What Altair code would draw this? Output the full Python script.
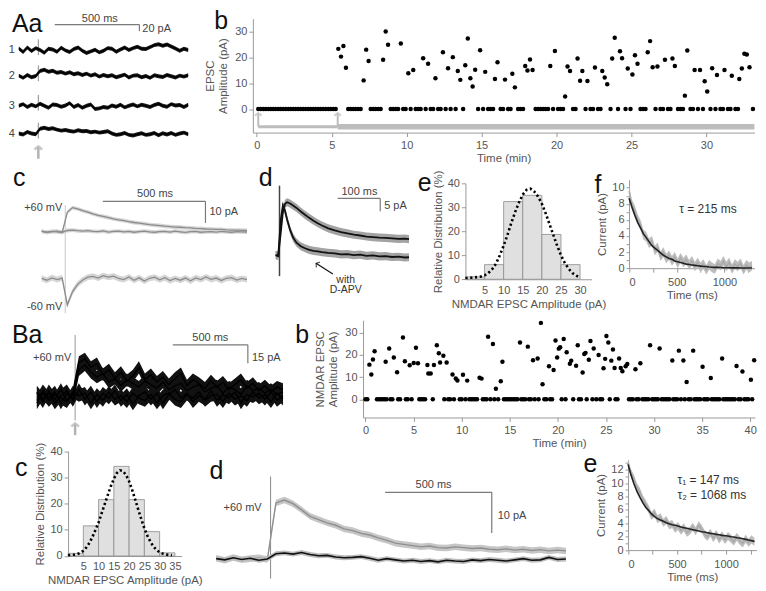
import altair as alt
import pandas as pd

FONT = "Liberation Sans"
WT, HT = 750, 583          # whole drawing area
KX, KY = 0.99, 0.985       # fit the 766x591 figure into the page

# ====================== DATA ======================
# --- A a: four single sweeps (ms from stimulus, pA) ---
aa_t = [-115, -90, -65, -40, -15, 10, 35, 60, 85, 110, 135, 160, 185, 210, 235, 260, 285, 310, 335, 360,
        385, 410, 435, 460, 485, 510, 535, 560, 585, 610, 635, 660, 685, 710, 735, 760, 785, 810, 835, 860, 885]
aa_1 = [5, -6, 8, -3, 6, 0, -8, 4, 2, -5, 7, -1, -6, 3, 8, -2, -9, -4, 1, -7, -2, 6, 4, -5, 2, 8, 0, 6, 10, 4,
        3, 9, 15, 18, 13, 17, 11, 5, -2, 4, 0]
aa_2 = [2, -5, 4, -3, 1, 16, 20, 14, 17, 11, 13, 8, 12, 6, 9, 4, 8, 2, 6, -1, 4, 0, 3, -3, 1, 5, -4, 2, 3, -3,
        1, -5, 3, 0, -2, 4, 0, -4, 2, -1, 3]
aa_3 = [0, 5, -4, 3, -2, 6, 0, -6, 4, 2, -3, 1, 8, -4, 2, -6, 0, 4, -10, -8, -4, -6, 1, -3, 3, -5, 0, 4, -2, 3,
        0, -4, 2, 6, 0, -3, 5, 1, 2, -4, 3]
aa_4 = [0, -3, 5, 0, -2, 15, 18, 14, 16, 12, 9, 11, 8, 6, 10, 7, 8, 4, 6, 3, 5, 7, 0, -4, -2, 2, -4, -6, -2, 1,
        -4, -2, 2, -5, 1, -3, 2, -4, 0, 3, -2]

# --- A b: EPSC amplitude vs time (successes) ---
b1_t = [5.44, 5.62, 5.78, 5.95, 7.13, 7.30, 7.46, 8.43, 8.60, 8.76, 9.61, 10.11, 10.44, 11.10, 11.43, 11.92,
        12.42, 12.76, 13.08, 13.41, 13.58, 13.91, 14.08, 14.25, 14.40, 14.57, 14.90, 15.24, 15.89, 16.06, 16.56,
        17.05, 17.22, 17.91, 18.06, 18.23, 18.40, 19.58, 19.89, 20.57, 20.73, 20.90, 21.40, 21.57, 21.72, 22.06,
        22.56, 23.05, 23.21, 23.38, 23.71, 23.88, 24.23, 24.37, 24.75, 25.06, 25.23, 25.40, 26.08, 26.24, 26.41,
        26.73, 27.23, 27.73, 27.89, 28.56, 28.72, 29.21, 29.57, 29.88, 30.05, 30.38, 30.70, 31.20, 31.69, 32.19,
        32.36, 32.53, 32.69, 32.87]
b1_a = [23.3, 20.3, 24.4, 16, 11.1, 23, 18.6, 19.1, 30, 24.9, 25.4, 13.9, 15.1, 19.7, 17.5, 11.9, 22, 15.8, 20.1,
        14.7, 11.3, 17, 27.3, 11.9, 8.7, 15.2, 22.8, 14.4, 11.6, 18.1, 11.4, 13.7, 8.4, 16.7, 14.9, 19.2, 15.1,
        16.7, 22.5, 4.9, 16.5, 14.7, 19.6, 11, 14.7, 10.9, 16.1, 14.7, 12.2, 9.6, 19.6, 27.6, 22.4, 19.7, 15.7,
        13.4, 20.8, 17.5, 22, 26.3, 16.2, 16.5, 19.1, 19.6, 16.7, 5.2, 22.7, 15.1, 15.1, 10.8, 6.8, 15.8, 13.2,
        15.1, 12.9, 11.6, 15.7, 21.4, 21.1, 16.2]
b1_first_trial = 0.1      # min
b1_interval = 1 / 6       # min (one stimulus every 10 s)
b1_n_trials = 199

# --- A c: averaged traces at +60 / -60 mV (ms, pA) ---
c_succ = [0.3, -0.2, 0.2, 0, -0.3, 9, 11.2, 10.6, 9.8, 9.1, 8.3, 7.6, 7.1, 6.6, 6, 5.5, 5.2, 4.7, 4.3, 4, 3.7,
          3.3, 3.1, 2.9, 2.6, 2.4, 2.2, 2.1, 1.9, 1.8, 1.6, 1.5, 1.3, 1.2, 1.1, 1.1, 0.9, 0.8, 0.8, 0.7, 0.6]
c_fail = [0.2, -0.3, 0.1, 0.3, -0.2, 0.6, 0.8, 0.5, 0.3, 0.5, 0.2, 0.1, 0.4, -0.1, 0.2, 0.3, 0, 0.2, -0.2, 0.1,
          0.3, 0, -0.2, 0.1, 0.2, -0.1, 0.3, 0, -0.3, 0.1, 0.2, -0.2, 0, 0.1, -0.1, 0.2, 0, -0.2, 0.1, 0, -0.1]
c_neg = [0.3, -0.6, 0.5, -0.3, 0.4, -12, -6, -2.5, -0.5, 0.8, 1.2, 0.4, 1.5, 0.8, 1.3, 0.2, -0.3, 0.9, -0.6, 0.5,
         -1, 0.3, 0.8, -0.4, 0.6, -0.8, 0.2, -0.6, 0.4, -0.9, 0.5, -0.3, 0.9, -0.2, 0.4, -0.7, 0.3, 0.6, -0.5,
         0.2, -0.3]

# --- A d: control vs D-APV (ms, pA) ---
d_t = [-9, -3, 3, 8, 13, 18, 25, 32, 40, 50, 60, 70, 80, 90, 100, 115, 130, 145, 160, 175, 190, 205, 220, 235,
       250, 265, 280, 295, 305]
d_ctrl = [0.2, -0.3, 9, 17, 20.2, 20.8, 20.3, 19.5, 18.6, 17.2, 15.9, 14.7, 13.6, 12.6, 11.7, 10.6, 9.8, 9.1,
          8.6, 8.1, 7.8, 7.4, 7.2, 7.0, 6.9, 6.7, 6.5, 6.6, 6.4]
d_apv = [0.1, -0.2, 14, 19.6, 17.5, 14, 10, 7, 5, 3.6, 2.8, 2.2, 1.8, 1.6, 1.3, 1, 0.8, 0.4, 0.5, 0.1, 0.3, -0.2,
         0, -0.4, -0.3, -0.6, -0.5, -0.8, -0.7]

# --- A e / B c: amplitude histograms (%), dotted fits ---
ae_lo = [0, 5, 10, 15, 20, 25]
ae_hi = [5, 10, 15, 20, 25, 30]
ae_pct = [1.0, 6.1, 32.4, 35.0, 18.7, 6.1]
ae_fit_x = [0, 1, 2, 3, 4, 5, 6, 7, 8, 9, 10, 11, 12, 13, 14, 15, 16, 17, 18, 19, 20, 21, 22, 23, 24, 25, 26,
            27, 28, 29, 30]
ae_fit_y = [0.5, 0.6, 0.7, 0.9, 1.1, 1.6, 2.6, 4.2, 6.5, 10, 14, 18.5, 23.5, 28, 32, 35.3, 37.3, 37.8, 36.6, 34.5,
            31.5, 27.5, 23, 18.5, 14, 10, 6.8, 4.4, 2.6, 1.5, 0.8]
bc_lo = [0, 5, 10, 15, 20, 25, 30]
bc_hi = [5, 10, 15, 20, 25, 30, 35]
bc_pct = [1.0, 11.5, 21.5, 34.2, 21.5, 9.3, 1.2]
bc_fit_x = [0, 1, 2, 3, 4, 5, 6, 7, 8, 9, 10, 11, 12, 13, 14, 15, 16, 17, 18, 19, 20, 21, 22, 23, 24, 25, 26,
            27, 28, 29, 30, 31, 32, 33, 34]
bc_fit_y = [0.3, 0.4, 0.5, 0.7, 1.2, 2, 3.3, 5, 7.3, 10, 12.8, 16.3, 19.8, 23.2, 26.6, 29.5, 31.7, 32.7, 32.4,
            30.9, 28.5, 25.2, 21.5, 17.7, 14, 10.6, 7.7, 5.4, 3.6, 2.3, 1.4, 0.9, 0.6, 0.4, 0.3]

# --- A f / B e: decays (ms, pA) ---
fe_t = [0, 30, 60, 90, 120, 150, 180, 210, 240, 270, 300, 330, 360, 390, 420, 450, 480, 510, 540, 570, 600, 630,
        660, 690, 720, 750, 780, 810, 840, 870, 900, 930, 960, 990, 1020, 1050, 1080, 1110, 1140, 1170, 1200,
        1230, 1260, 1290]
f_gray = [9.6, 7.9, 7.2, 6.1, 5.4, 4.2, 3.9, 3.1, 3.4, 2.2, 2.6, 1.5, 2.0, 1.2, 1.6, 0.9, 1.4, 0.6, 1.3, 0.7,
          1.1, 0.4, 0.9, 0.2, 0.7, 0.1, 0.5, -0.2, 0.4, 0.1, -0.1, 0.6, 0.3, 0.9, 0.2, 0.7, -0.1, 0.5, 0.2, 0.6,
          -0.2, 0.4, 0.1, 0.3]
f_fit = [8.7, 7.6, 6.6, 5.7, 5.0, 4.3, 3.8, 3.3, 2.8, 2.5, 2.2, 1.9, 1.6, 1.4, 1.2, 1.1, 0.9, 0.8, 0.7, 0.6, 0.5,
         0.45, 0.4, 0.35, 0.3, 0.25, 0.2, 0.2, 0.15, 0.12, 0.1, 0.1, 0.08, 0.06, 0.05, 0.05, 0.04, 0.03, 0.03,
         0.02, 0.02, 0.02, 0.01, 0.01]
be_gray = [13, 11.5, 10.6, 9.4, 8.7, 7.6, 6.9, 6.1, 5.1, 5.6, 4.6, 4.9, 4.1, 4.5, 3.7, 3.9, 3.2, 3.6, 2.9, 3.4,
           2.6, 2.9, 3.5, 2.8, 3.7, 3.2, 2.4, 2.0, 2.6, 1.8, 2.4, 1.6, 2.2, 1.5, 2.1, 1.7, 1.3, 2.0, 1.4, 1.0,
           1.7, 1.1, 1.6, 1.2]
be_fit = [12.8, 11.2, 9.9, 8.8, 7.9, 7.1, 6.4, 5.9, 5.4, 5.0, 4.7, 4.5, 4.3, 4.1, 3.95, 3.8, 3.7, 3.6, 3.45,
          3.35, 3.25, 3.15, 3.05, 2.95, 2.85, 2.75, 2.7, 2.6, 2.5, 2.45, 2.35, 2.3, 2.2, 2.15, 2.1, 2.0, 1.95,
          1.85, 1.8, 1.7, 1.6, 1.5, 1.4, 1.3]

# --- B a: single sweeps at +60 mV (ms, pA) ---
ba_t = [-255, -215, -175, -135, -95, -55, -15, 25, 65, 105, 145, 185, 225, 265, 305, 345, 385, 425, 465, 505,
        545, 585, 625, 665, 705, 745, 785, 825, 865, 905, 945, 985, 1025, 1065, 1105, 1145, 1185, 1225, 1265,
        1305, 1345, 1385]
ba_s1 = [3, -4, 5, -2, 6, -3, 2, 28, 31, 24, 27, 18, 22, 15, 20, 13, 17, 24, 14, 18, 12, 16, 10, 15, 19, 9, 14,
         11, 7, 13, 8, 12, 6, 10, 14, 7, 11, 5, 9, 4, 8, 6]
ba_s2 = [-3, 5, -1, 4, -5, 3, -2, 22, 26, 20, 16, 19, 12, 15, 9, 14, 11, 8, 13, 10, 7, 12, 6, 9, 11, 5, 8, 10, 4,
         7, 9, 3, 8, 6, 2, 9, 5, 7, 3, 6, 2, 4]
ba_f1 = [4, -2, 3, -5, 1, 5, -3, 6, -2, 4, -4, 3, -1, 5, -3, 2, -6, 1, 4, -2, 3, -5, 2, 6, -1, 3, -4, 1, -2, 5,
         -3, 2, -1, 4, -5, 2, 0, 3, -2, 4, -3, 1]
ba_f2 = [-5, 3, -3, 2, -1, -4, 4, 1, 3, -5, 2, -3, 4, -2, 1, -4, 3, -1, -3, 2, -5, 1, 3, -2, -4, 2, -1, 4, -3, 1,
         2, -4, 3, -2, 1, -3, 4, -1, 2, -4, 3, -2]

# --- B b: NMDAR EPSC amplitude vs time (successes) ---
bb_t = [0.41, 0.61, 0.78, 0.95, 2.1, 2.47, 2.95, 3.29, 3.9, 4.1, 4.6, 5.02, 5.25, 5.46, 6.44, 6.54, 6.78, 7.12,
        7.42, 7.63, 7.76, 8.1, 8.44, 9.05, 9.39, 9.56, 10.14, 10.58, 11.86, 12.07, 12.75, 13.25, 13.56, 14.07,
        14.24, 16.07, 16.88, 17.42, 17.9, 18.24, 18.41, 19.08, 19.56, 19.76, 19.93, 20.1, 20.24, 20.61, 20.92,
        21.25, 21.39, 21.9, 22.07, 22.58, 22.75, 22.88, 23.22, 23.39, 23.73, 24.24, 24.75, 24.92, 25.05, 25.25,
        25.56, 25.73, 25.9, 26.37, 26.54, 26.71, 27.05, 27.22, 28.07, 28.58, 29.59, 30.58, 31.9, 32.58, 33.05,
        33.39, 34.07, 35.05, 35.9, 37.08, 38.58, 39.19, 40.07, 40.41]
bb_a = [15.6, 11.2, 17.9, 21.6, 16.9, 22.9, 18.8, 12.2, 27.8, 17.1, 15.3, 16.3, 23.2, 16.2, 15.4, 11.6, 11.6,
        15.4, 24.3, 20.7, 16.6, 19.6, 16.6, 11.2, 9.4, 8.5, 11, 8.4, 9.7, 9.3, 28.2, 24.9, 4.7, 8.1, 16.9, 25.6,
        23.7, 17.6, 18.4, 34.4, 6.8, 14.9, 13.2, 26.5, 18.8, 22.8, 23.4, 27.1, 21.2, 16, 17.4, 15.1, 24.3, 12.1,
        20.4, 20.9, 17.8, 26.2, 22.9, 19.9, 14, 18.2, 28.5, 25.6, 17.4, 22.4, 14.1, 18.4, 14.1, 12.6, 14.9, 15.9,
        13.5, 16.2, 24.3, 22.9, 17.5, 21.9, 17.5, 7.8, 21.9, 14.6, 9.6, 18.4, 15, 12.5, 8.8, 17.6]
bb_first_trial = 0.0
bb_interval = 0.2
bb_n_trials = 203

# --- B d: averaged traces at +60 mV (ms, pA) ---
bd_ctrl = [0.2, -0.3, 0.4, -0.2, 0.1, 0.3, -0.1, 13.8, 14.5, 13.6, 12.1, 10.5, 9.7, 8.9, 8.3, 7.4, 7.0, 6.3, 5.9,
           5.2, 4.6, 3.9, 3.6, 3.3, 3.0, 3.2, 2.8, 2.7, 3.0, 2.8, 2.6, 2.7, 2.4, 2.3, 2.5, 2.2, 2.4, 2.1, 2.3,
           2.0, 2.2, 2.0]
bd_apv = [0.1, -0.2, 0.3, -0.1, 0.2, -0.3, 0, 1.3, 1.5, 1.2, 1.6, 1.1, 0.8, 0.9, 0.5, 0.3, 0.4, 0.6, 0.2, -0.3,
          0.1, -0.2, -0.5, -0.3, -0.6, -0.4, -0.7, -0.3, -0.5, -0.6, -0.2, -0.4, -0.1, -0.3, -0.5, -0.2, 0.1,
          -0.3, -0.2, 0.4, -0.1, 0]

# ====================== LAYOUT (panel boxes in figure pixels: x0, x1, y0, y1) ======================
BOX = {
    "Aa": (0, 190, 0, 155), "Ab": (249, 757, 8, 124),
    "Ac": (0, 248, 165, 310), "Ad": (255, 410, 165, 305), "Ae": (464.3, 592, 175.7, 273.3),
    "Af": (630, 757, 172, 262),
    "Ba": (0, 300, 318, 432), "Bb": (360.6, 757.6, 315, 414),
    "Bc": (61.85, 176.85, 448.3, 555), "Bd": (200, 570, 455, 585), "Be": (629, 759, 457, 549),
}


def X(r):
    return round(r * KX - 3, 2)


def Y(r):
    return round(r * KY - 1, 2)


def S(lo, hi, rng):
    return alt.Scale(domain=[lo, hi], range=rng, nice=False, zero=False)


def scales(name, xdom, ydom):
    x0, x1, y0, y1 = BOX[name]
    return S(xdom[0], xdom[1], [X(x0), X(x1)]), S(ydom[0], ydom[1], [Y(y1), Y(y0)])


AX = dict(domainColor="#9a9a9a", tickColor="#9a9a9a", labelColor="#555555", titleColor="#555555",
          labelFont=FONT, titleFont=FONT, labelFontSize=11, titleFontSize=11.5, titleFontWeight="normal",
          grid=False, domainWidth=1, tickWidth=1, format="d")


def xaxis(name, **kw):
    return alt.Axis(orient="bottom", offset=round(Y(BOX[name][3]) - HT, 2), **AX, **kw)


def yaxis(name, **kw):
    return alt.Axis(orient="left", offset=-X(BOX[name][0]), **AX, **kw)


CHEV = "M-1,0.8L0,0L1,0.8"


def failures(first, step, n, succ):
    out = []
    for i in range(n):
        tt = first + i * step
        if min(abs(tt - s) for s in succ) > step / 2:
            out.append(round(tt, 3))
    return out


def traces_df(t, series, offsets, bands):
    rows = []
    for k, vals in enumerate(series):
        for x, v in zip(t, vals):
            y = v + offsets[k]
            rows.append({"t": x, "v": y, "lo": y - bands[k], "hi": y + bands[k], "k": k})
    return pd.DataFrame(rows)


def line(df, sx, sy, xax=None, yax=None, **mk):
    return alt.Chart(df).mark_line(**mk).encode(
        x=alt.X("t:Q", scale=sx, axis=xax), y=alt.Y("v:Q", scale=sy, axis=yax), detail="k:N")


def band(df, sx, sy, xax=None, yax=None, **mk):
    return alt.Chart(df).mark_area(**mk).encode(
        x=alt.X("t:Q", scale=sx, axis=xax), y=alt.Y("lo:Q", scale=sy, axis=yax), y2="hi:Q", detail="k:N")


def segs(rows, sx, sy, xax=None, yax=None, **mk):
    df = pd.DataFrame(rows, columns=["x", "x2", "y", "y2"])
    return alt.Chart(df).mark_rule(**mk).encode(
        x=alt.X("x:Q", scale=sx, axis=xax), x2="x2:Q", y=alt.Y("y:Q", scale=sy, axis=yax), y2="y2:Q")


def txt(rows, sx, sy, xax=None, yax=None, **mk):
    df = pd.DataFrame(rows, columns=["x", "y", "s"])
    return alt.Chart(df).mark_text(font=FONT, **mk).encode(
        x=alt.X("x:Q", scale=sx, axis=xax), y=alt.Y("y:Q", scale=sy, axis=yax), text="s:N")


def heads(rows, sx, sy, xax=None, yax=None, **mk):
    df = pd.DataFrame(rows, columns=["x", "y"])
    return alt.Chart(df).mark_point(shape=CHEV, filled=False, **mk).encode(
        x=alt.X("x:Q", scale=sx, axis=xax), y=alt.Y("y:Q", scale=sy, axis=yax))


def dots(xs, ys, sx, sy, xax, yax):
    df = pd.DataFrame({"x": xs, "y": ys})
    return alt.Chart(df).mark_circle(size=20, color="#000000", opacity=1).encode(
        x=alt.X("x:Q", scale=sx, axis=xax), y=alt.Y("y:Q", scale=sy, axis=yax))


def letter(x, y, s, sx, sy, xax=None, yax=None):
    return txt([(x, y, s)], sx, sy, xax, yax, align="left", baseline="alphabetic", fontSize=25, color="#111111")


BAR = dict(color="#7a7a7a", strokeWidth=1.2)
LBL = dict(fontSize=11, color="#444444")

# ====================== PANELS ======================
# ---- A a ----
sx, sy = scales("Aa", (-185, 923), (-345, 120))
aa_off = [0, -80, -170, -255]
df = traces_df(aa_t, [aa_1, aa_2, aa_3, aa_4], aa_off, [6, 6, 6, 6])
pAa = alt.layer(
    segs([(0, 0, o + 33, o - 15) for o in aa_off], sx, sy, color="#8a8a8a", strokeWidth=1),
    band(df, sx, sy, color="#1a1a1a"),
    line(df, sx, sy, color="#000000", strokeWidth=1.6, strokeJoin="round"),
    segs([(97, 597, 78, 78), (597, 597, 78, 58)], sx, sy, **BAR),
    txt([(363, 87, "500 ms")], sx, sy, align="center", baseline="alphabetic", **LBL),
    txt([(614, 63, "20 pA")], sx, sy, align="left", baseline="middle", **LBL),
    txt([(-156, o, str(i + 1)) for i, o in enumerate(aa_off)], sx, sy, align="center", baseline="middle", **LBL),
    segs([(0, 0, -332, -297)], sx, sy, color="#b3b3b3", strokeWidth=2.5),
    heads([(0, -294)], sx, sy, color="#b3b3b3", strokeWidth=2.5, size=60),
    letter(-156, 54, "Aa", sx, sy),
)

# ---- A b ----
sx, sy = scales("Ab", (-0.26, 33.2), (-9.1, 35))
xa = xaxis("Ab", values=[0, 5, 10, 15, 20, 25, 30], title="Time (min)", tickSize=4, labelPadding=3, titlePadding=2)
ya = yaxis("Ab", values=[0, 10, 20, 30], title=["EPSC", "Amplitude (pA)"], tickSize=4, titlePadding=6)
b1_fail = failures(b1_first_trial, b1_interval, b1_n_trials, b1_t)
pAb = alt.layer(
    segs([(0.1, 5.4, -6.8, -6.8)], sx, sy, xa, ya, color="#bdbdbd", strokeWidth=3),
    segs([(5.4, 33.2, -6.8, -6.8)], sx, sy, xa, ya, color="#bdbdbd", strokeWidth=5.5),
    segs([(0.1, 0.1, -6.8, -1.8), (5.4, 5.4, -6.8, -1.8)], sx, sy, xa, ya, color="#bdbdbd", strokeWidth=2),
    heads([(0.1, -1.5), (5.4, -1.5)], sx, sy, xa, ya, color="#bdbdbd", strokeWidth=2, size=45),
    dots(b1_fail, [0] * len(b1_fail), sx, sy, xa, ya),
    dots(b1_t, b1_a, sx, sy, xa, ya),
    letter(-2.83, 30.8, "b", sx, sy, xa, ya),
)

# ---- A c ----
sx, sy = scales("Ac", (-283.7, 908.7), (-38.64, 27.27))
df = traces_df(aa_t, [c_succ, c_fail, c_neg], [0, 0, -21.8], [0.9, 0.9, 1.4])
pAc = alt.layer(
    segs([(0, 0, 12.3, -37.7)], sx, sy, color="#c8c8c8", strokeWidth=1),
    band(df, sx, sy, color="#d6d6d6"),
    line(df, sx, sy, color="#8c8c8c", strokeWidth=1.3),
    segs([(182.7, 682.7, 14.1, 14.1), (682.7, 682.7, 14.1, 4.1)], sx, sy, **BAR),
    txt([(437.5, 15.9, "500 ms")], sx, sy, align="center", baseline="alphabetic", **LBL),
    txt([(702, 9.1, "10 pA")], sx, sy, align="left", baseline="middle", **LBL),
    txt([(-14.4, 10.9, "+60 mV"), (-14.4, -35, "-60 mV")], sx, sy, align="right", baseline="middle", **LBL),
    letter(-254.8, 21.4, "c", sx, sy),
)

# ---- A d ----
sx, sy = scales("Ad", (-48.8, 311.6), (-21.5, 32.3))
df = traces_df(d_t, [d_ctrl, d_apv], [0, 0], [1.6, 1.6])
pAd = alt.layer(
    segs([(0, 0, 27.3, -8.1)], sx, sy, color="#444444", strokeWidth=1.5),
    band(df, sx, sy, color="#a3a3a3"),
    line(df, sx, sy, color="#111111", strokeWidth=1.8),
    segs([(137.2, 237.2, 22.3, 22.3), (237.2, 237.2, 22.3, 17.3)], sx, sy, **BAR),
    txt([(188.4, 23.8, "100 ms")], sx, sy, align="center", baseline="alphabetic", **LBL),
    txt([(246.5, 19.2, "5 pA")], sx, sy, align="left", baseline="middle", **LBL),
    txt([(155.8, -10.8, "with"), (155.8, -14.6, "D-APV")], sx, sy, align="center", baseline="alphabetic",
        fontSize=10.5, color="#333333"),
    segs([(125.6, 86, -7.3, -3.1)], sx, sy, color="#111111", strokeWidth=1.2),
    heads([(86, -3.1)], sx, sy, color="#111111", strokeWidth=1.2, size=40, angle=303),
    letter(-48.8, 27.3, "d", sx, sy),
)


# ---- histogram helper ----
def histo(name, lo, hi, pct, fx, fy, dom_x, xvals, lx, ly, lab):
    sx, sy = scales(name, (0, dom_x), (0, 40))
    xa = xaxis(name, values=xvals, title="NMDAR EPSC Amplitude (pA)", tickSize=0, labelPadding=5, titlePadding=3)
    ya = yaxis(name, values=[0, 10, 20, 30, 40], title="Relative Distribution (%)", tickSize=4, titlePadding=4)
    hd = pd.DataFrame({"lo": lo, "hi": hi, "p": pct, "base": [0] * len(lo)})
    fd = pd.DataFrame({"x": fx, "y": fy})
    bars = alt.Chart(hd).mark_bar(fill="#e0e0e0", stroke="#8c8c8c", strokeWidth=0.8).encode(
        x=alt.X("lo:Q", scale=sx, axis=xa), x2="hi:Q", y=alt.Y("p:Q", scale=sy, axis=ya), y2="base:Q")
    fit = alt.Chart(fd).mark_line(color="#000000", strokeWidth=2.6, strokeDash=[2.2, 2.6]).encode(
        x=alt.X("x:Q", scale=sx, axis=xa), y=alt.Y("y:Q", scale=sy, axis=ya))
    return alt.layer(bars, fit, letter(lx, ly, lab, sx, sy, xa, ya))


pAe = histo("Ae", ae_lo, ae_hi, ae_pct, ae_fit_x, ae_fit_y, 33, [5, 10, 15, 20, 25, 30], -12.5, 37.0, "e")
pBc = histo("Bc", bc_lo, bc_hi, bc_pct, bc_fit_x, bc_fit_y, 37.2, [5, 10, 15, 20, 25, 30, 35], -17.4, 30.7, "c")


# ---- decay helper ----
def decay(name, gray, fit, xmax, ymax, yvals, notes, lx, ly, lab):
    sx, sy = scales(name, (0, xmax), (0, ymax))
    xa = xaxis(name, values=[0, 250, 500, 750, 1000, 1250], title="Time (ms)", tickSize=4,
               labelExpr="datum.value % 500 === 0 ? datum.label : ''", labelPadding=4, titlePadding=2)
    ya = yaxis(name, values=yvals, title="Current (pA)", tickSize=3,
               labelExpr="datum.value % 2 === 0 ? datum.label : ''", titlePadding=4)
    df = traces_df(fe_t, [gray, fit], [0, 0], [0.6, 0])
    layers = [band(df[df.k == 0], sx, sy, xa, ya, color="#bdbdbd"),
              line(df[df.k == 0], sx, sy, xa, ya, color="#a8a8a8", strokeWidth=1.4),
              line(df[df.k == 1], sx, sy, xa, ya, color="#222222", strokeWidth=1.6)]
    for (x, y, s, al) in notes:
        layers.append(txt([(x, y, s)], sx, sy, xa, ya, align=al, baseline="middle", fontSize=12,
                          color="#333333"))
    layers.append(letter(lx, ly, lab, sx, sy, xa, ya))
    return alt.layer(*layers)


pAf = decay("Af", f_gray, f_fit, 1315, 11, list(range(0, 11)), [(828, 7.33, "τ = 215 ms", "center")],
            -362, 9.41, "f")
pBe = decay("Be", be_gray, be_fit, 1310, 13.5, list(range(0, 14)),
            [(504, 10.54, "τ₁ = 147 ms", "left"), (504, 8.2, "τ₂ = 1068 ms", "left")], -454, 11.6, "e")

# ---- B a ----
sx, sy = scales("Ba", (-454, 1520), (-31.2, 60))
df = traces_df(ba_t, [ba_f1, ba_f2, ba_s1, ba_s2], [0, 0, 0, 0], [5, 5, 5, 5])
pBa = alt.layer(
    segs([(0, 0, 50.4, -19.2)], sx, sy, color="#999999", strokeWidth=1),
    band(df, sx, sy, color="#111111"),
    line(df, sx, sy, color="#000000", strokeWidth=1.4),
    segs([(651, 1151, 42.4, 42.4), (1151, 1151, 42.4, 27.4)], sx, sy, **BAR),
    txt([(901, 45.6, "500 ms")], sx, sy, align="center", baseline="alphabetic", **LBL),
    txt([(1178, 32, "15 pA")], sx, sy, align="left", baseline="middle", **LBL),
    txt([(-26, 32, "+60 mV")], sx, sy, align="right", baseline="middle", **LBL),
    segs([(0, 0, -31.2, -22.5)], sx, sy, color="#b3b3b3", strokeWidth=2.5),
    heads([(0, -21.6)], sx, sy, color="#b3b3b3", strokeWidth=2.5, size=60),
    letter(-421, 44, "Ba", sx, sy),
)

# ---- B b ----
sx, sy = scales("Bb", (-0.25, 40.5), (-8.2, 35.6))
xa = xaxis("Bb", values=[0, 5, 10, 15, 20, 25, 30, 35, 40], title="Time (min)", tickSize=4, labelPadding=3,
           titlePadding=2)
ya = yaxis("Bb", values=[0, 10, 20, 30], title=["NMDAR EPSC", "Amplitude (pA)"], tickSize=4, titlePadding=6)
bb_fail = failures(bb_first_trial, bb_interval, bb_n_trials, bb_t)
pBb = alt.layer(
    dots(bb_fail, [0] * len(bb_fail), sx, sy, xa, ya),
    dots(bb_t, bb_a, sx, sy, xa, ya),
    letter(-7.29, 25.4, "b", sx, sy, xa, ya),
)

# ---- B d ----
sx, sy = scales("Bd", (-310, 1403), (-6.5, 24.9))
dfg = traces_df(ba_t, [bd_ctrl], [0], [0.8])
dfk = traces_df(ba_t, [bd_apv], [0], [0.6])
pBd = alt.layer(
    segs([(0, 0, 20.3, -4.8)], sx, sy, color="#888888", strokeWidth=1),
    band(dfg, sx, sy, color="#c6c6c6"),
    line(dfg, sx, sy, color="#8f8f8f", strokeWidth=1.4),
    band(dfk, sx, sy, color="#bdbdbd"),
    line(dfk, sx, sy, color="#111111", strokeWidth=1.6),
    segs([(537, 1037, 16.4, 16.4), (1037, 1037, 16.4, 6.4)], sx, sy, **BAR),
    txt([(764, 17.4, "500 ms")], sx, sy, align="center", baseline="alphabetic", **LBL),
    txt([(1065, 10.6, "10 pA")], sx, sy, align="left", baseline="middle", **LBL),
    txt([(-42, 12.6, "+60 mV")], sx, sy, align="right", baseline="middle", **LBL),
    letter(-287, 19.6, "d", sx, sy),
)

# ====================== ONE CANVAS ======================
chart = alt.layer(pAa, pAb, pAc, pAd, pAe, pAf, pBa, pBb, pBc, pBd, pBe).resolve_scale(
    x="independent", y="independent"
).resolve_axis(
    x="independent", y="independent"
).properties(
    width=WT, height=HT, padding=0, background="white"
).configure_view(strokeWidth=0)

chart.save("out.html", embed_options={"renderer": "svg", "actions": False})
